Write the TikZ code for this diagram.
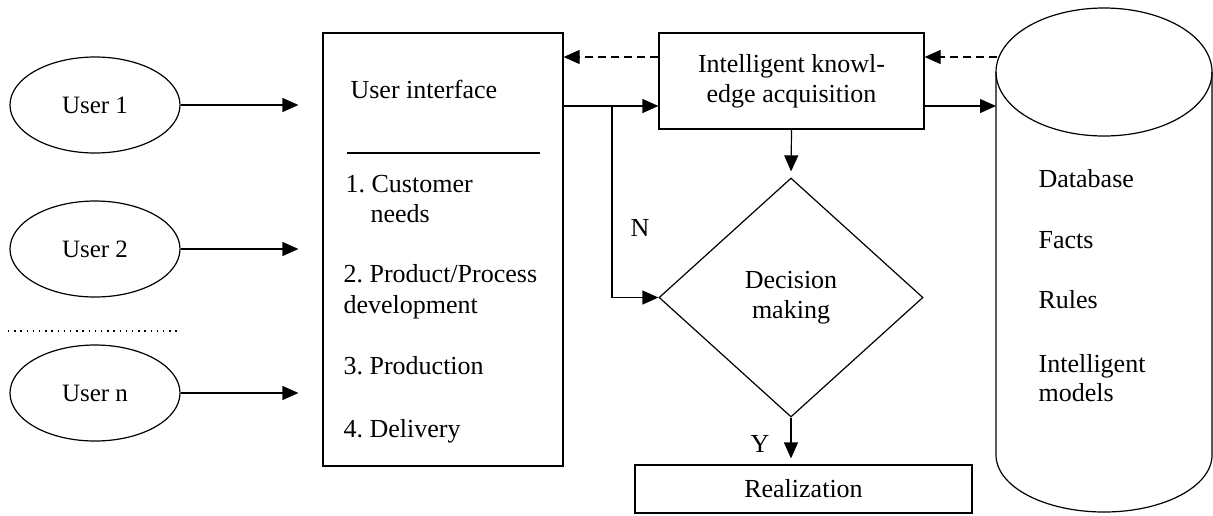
\documentclass[tikz,border=0pt]{standalone}
\usepackage{fontspec}
\setmainfont{Liberation Serif}
\usetikzlibrary{shapes.geometric,arrows.meta}
\frenchspacing
\begin{document}
\begin{tikzpicture}[x=0.5pt,y=-0.5pt,line width=0.6pt,font=\fontsize{13}{15}\selectfont,
		usr/.style={draw,shape=ellipse,minimum width=85pt,minimum height=48pt,inner sep=0pt,font=\fontsize{12.5}{15}\selectfont},
		box/.style={draw,shape=rectangle,inner sep=0pt,align=center},
		arr/.style={-{Triangle[length=8pt,width=7pt]}},
		dsh/.style={dash pattern=on 4pt off 2.5pt},
		txt/.style={anchor=base west,inner sep=0pt}]
			\useasboundingbox (0,0) rectangle (1213,515);
			\node[usr] (UA) at (95,105) {User 1};
			\node[usr] (UB) at (95,249) {User 2};
			\node[usr] (UN) at (95,393) {User n};
			\draw[dash pattern=on 0.7pt off 2.4pt] (8,331) -- (178,331);

			\node[box,minimum width=120pt,minimum height=216.5pt] (UI) at (443,249.5) {};
			\node[txt] (TA) at (350,98) {User interface};
			\draw (347,153) -- (540,153);
			\node[txt] (TB) at (345,192) {1. Customer};
			\node[txt] (TC) at (370,222) {needs};
			\node[txt] (TD) at (343,282) {2. Product/Process};
			\node[txt] (TE) at (343,313) {development};
			\node[txt] (TF) at (343,374) {3. Production};
			\node[txt] (TG) at (343,437) {4. Delivery};

			\node[box,minimum width=132.5pt,minimum height=48pt] (KA) at (791.5,81) {Intelligent knowl-\\edge acquisition};
			\node[draw,shape=diamond,aspect=1.1,minimum width=132pt,minimum height=119.5pt,inner sep=0pt,align=center] (DM) at (791,297.5) {Decision\\making};
			\node[box,minimum width=168.5pt,minimum height=24pt] (RZ) at (803.5,489) {Realization};
			\node (LN) at (640,228) {N};
			\node (LY) at (760,444) {Y};

			% database cylinder
			\draw (1104,72) ellipse [x radius=54pt,y radius=32pt];
			\draw (996,72) -- (996,455) arc [start angle=180,end angle=360,x radius=54pt,y radius=28.5pt] -- (1212,72);
			\node[txt] (DA) at (1038,187) {Database};
			\node[txt] (DB) at (1038,248) {Facts};
			\node[txt] (DC) at (1038,308) {Rules};
			\node[txt] (DD) at (1038,372) {Intelligent};
			\node[txt] (DE) at (1038,401) {models};
			\coordinate (CA) at (997,57);
			\coordinate (CB) at (996,106);
			\coordinate (BR) at (612,106);

			\draw[arr,shorten >=12pt] (UA) -- (UA -| UI.west);
			\draw[arr,shorten >=12pt] (UB) -- (UB -| UI.west);
			\draw[arr,shorten >=12pt] (UN) -- (UN -| UI.west);
			\draw[arr,dsh] ([yshift=12pt]KA.west) -- ([yshift=12pt]KA.west -| UI.east);
			\draw[arr] (UI.east |- BR) -- ([yshift=-12.5pt]KA.west);
			\draw[arr] (BR) |- (DM.west);
			\draw[arr,dsh] (CA) -- (CA -| KA.east);
			\draw[arr] ([yshift=-12.5pt]KA.east) -- (CB);
			\draw[arr,shorten >=3pt] (KA.south) -- (DM.north);
			\draw[arr,shorten >=3pt] (DM.south) -- (DM.south |- RZ.north);
		    \end{tikzpicture}
\end{document}
